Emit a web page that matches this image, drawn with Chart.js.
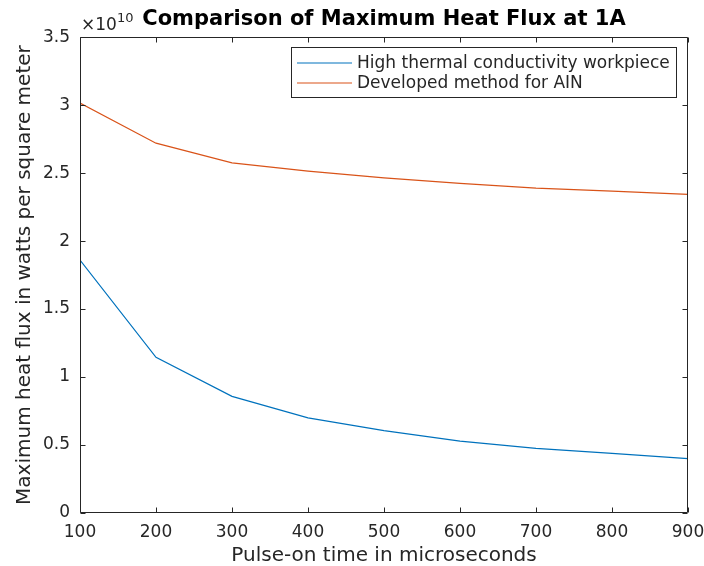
<!DOCTYPE html>
<html>
<head>
<meta charset="utf-8">
<script src="https://cdn.jsdelivr.net/npm/chart.js@4/dist/chart.umd.min.js"></script>
<style>
  html, body { margin: 0; padding: 0; background: #ffffff; }
  #wrap { width: 704px; height: 566px; }
</style>
</head>
<body>
<div id="wrap"><canvas id="c" width="704" height="566"></canvas></div>
<script>
// ---- data (heat flux in units of 1e10 W/m^2) ----
const pulseOnTimes = [100, 200, 300, 400, 500, 600, 700, 800, 900];
const highConductivity = [1.86, 1.145, 0.858, 0.70, 0.606, 0.529, 0.476, 0.439, 0.40];
const developedAIN = [3.015, 2.72, 2.575, 2.515, 2.465, 2.425, 2.39, 2.368, 2.343];
const seriesNames = ['High thermal conductivity workpiece', 'Developed method for AIN'];
const chartTitle = 'Comparison of Maximum Heat Flux at 1A';
const xTitle = 'Pulse-on time in microseconds';
const yTitle = 'Maximum heat flux in watts per square meter';
const yExponent = '10';

const BLUE = '#0072BD';
const RED = '#D95319';
const AXIS = '#262626';
const FONT = '"DejaVu Sans", sans-serif';

const toPoints = (xs, ys) => xs.map((x, i) => ({ x: x, y: ys[i] }));

const framePlugin = {
  id: 'matlabFrame',
  afterDraw(chart) {
    const ctx = chart.ctx;
    const a = chart.chartArea;
    const xs = chart.scales.x, ys = chart.scales.y;
    const L = Math.round(a.left) + 0.5, R = Math.round(a.right) - 0.5;
    const T = Math.round(a.top) + 0.5, B = Math.round(a.bottom) - 0.5;
    ctx.save();
    ctx.strokeStyle = AXIS;
    ctx.lineWidth = 1;
    ctx.beginPath();
    ctx.rect(L, T, R - L, B - T);
    ctx.stroke();
    const tl = 5;
    ctx.beginPath();
    xs.ticks.forEach(t => {
      const px = Math.round(xs.getPixelForValue(t.value)) + 0.5;
      ctx.moveTo(px, B); ctx.lineTo(px, B - tl);
      ctx.moveTo(px, T); ctx.lineTo(px, T + tl);
    });
    ys.ticks.forEach(t => {
      const py = Math.round(ys.getPixelForValue(t.value)) + 0.5;
      ctx.moveTo(L, py); ctx.lineTo(L + tl, py);
      ctx.moveTo(R, py); ctx.lineTo(R - tl, py);
    });
    ctx.stroke();

    // exponent label
    ctx.fillStyle = AXIS;
    ctx.textBaseline = 'alphabetic';
    ctx.textAlign = 'left';
    ctx.font = '17px ' + FONT;
    const base = '\u00d710';
    ctx.fillText(base, a.left + 1, 30);
    const w = ctx.measureText(base).width;
    ctx.font = '13px ' + FONT;
    ctx.fillText(yExponent, a.left + 1 + w, 22);

    // legend
    const lx = 291.5, ly = 47.5, lw = 385, lh = 50;
    ctx.fillStyle = '#ffffff';
    ctx.fillRect(lx, ly, lw, lh);
    ctx.strokeStyle = AXIS;
    ctx.strokeRect(lx, ly, lw, lh);
    const rows = [63, 83];
    const colors = [BLUE, RED];
    ctx.font = '17px ' + FONT;
    ctx.textBaseline = 'middle';
    seriesNames.forEach((name, i) => {
      ctx.strokeStyle = colors[i];
      ctx.lineWidth = 1.2;
      ctx.beginPath();
      ctx.moveTo(297, rows[i]); ctx.lineTo(352, rows[i]);
      ctx.stroke();
      ctx.fillStyle = AXIS;
      ctx.fillText(name, 357, rows[i] + 1);
    });
    ctx.restore();
  }
};

new Chart(document.getElementById('c'), {
  type: 'line',
  data: {
    datasets: [
      { label: seriesNames[0], data: toPoints(pulseOnTimes, highConductivity), borderColor: BLUE, borderWidth: 1.2, pointRadius: 0, tension: 0, fill: false },
      { label: seriesNames[1], data: toPoints(pulseOnTimes, developedAIN), borderColor: RED, borderWidth: 1.2, pointRadius: 0, tension: 0, fill: false }
    ]
  },
  options: {
    responsive: false,
    animation: false,
    devicePixelRatio: 1,
    layout: { padding: { left: 0, right: 16, top: 0, bottom: 0 } },
    plugins: {
      legend: { display: false },
      tooltip: { enabled: false },
      title: {
        display: true,
        text: chartTitle,
        fullSize: false,
        color: '#000000',
        font: { family: FONT, size: 21, weight: 'bold', lineHeight: 1.15 },
        padding: { top: 7, bottom: 6 }
      }
    },
    scales: {
      x: {
        type: 'linear',
        min: 100, max: 900,
        grid: { display: false, drawTicks: false },
        border: { display: false },
        ticks: { stepSize: 100, color: AXIS, padding: 9, font: { family: FONT, size: 17 }, maxRotation: 0 },
        title: { display: true, text: xTitle, color: AXIS, font: { family: FONT, size: 20, lineHeight: 1.0 }, padding: { top: 0, bottom: 0 } },
        afterFit(s) { s.height = 53; s.paddingRight = 0; s.paddingLeft = 0; }
      },
      y: {
        type: 'linear',
        min: 0, max: 3.5,
        grid: { display: false, drawTicks: false },
        border: { display: false },
        ticks: {
          stepSize: 0.5, color: AXIS, padding: 10, font: { family: FONT, size: 17 },
          callback: (v) => String(Math.round(v * 10) / 10)
        },
        title: { display: true, text: yTitle, color: AXIS, font: { family: FONT, size: 20 }, padding: { top: 13, bottom: 0 } },
        afterFit(s) { s.width = 80; }
      }
    }
  },
  plugins: [framePlugin]
});
</script>
</body>
</html>
